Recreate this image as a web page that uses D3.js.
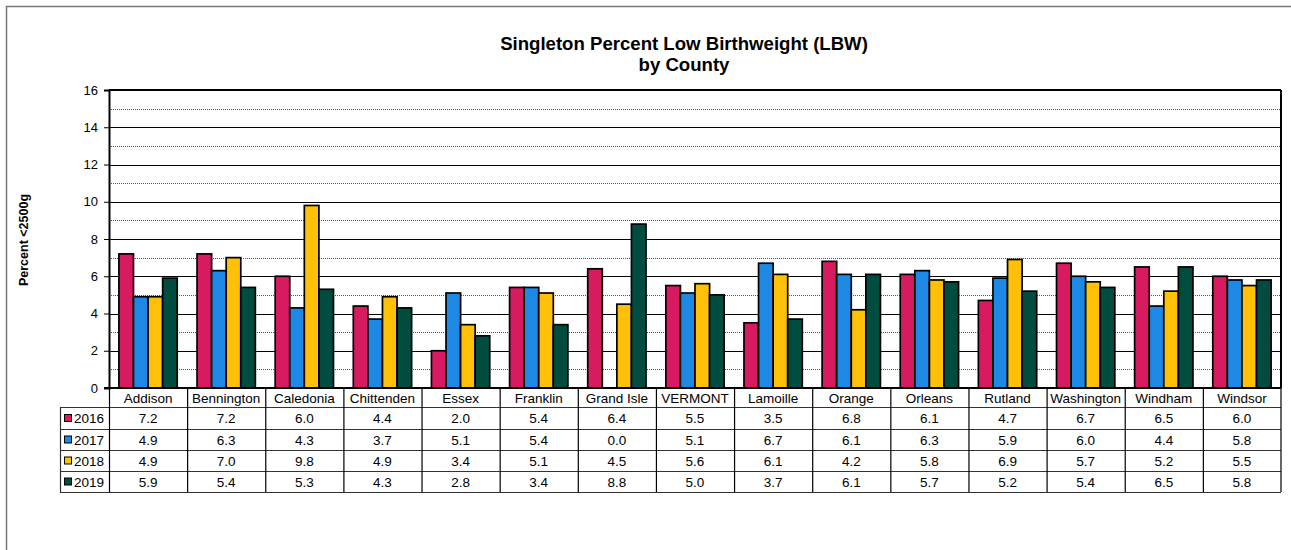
<!DOCTYPE html>
<html>
<head>
<meta charset="utf-8">
<script src="https://cdn.jsdelivr.net/npm/d3@7"></script>
<style>
  body { margin: 0; background: #fff; }
  svg { font-family: "Liberation Sans", Arial, sans-serif; }
</style>
</head>
<body>
<div id="chart"></div>
<script>
const width = 1291;
const height = 550;

// data
const counties = ["Addison", "Bennington", "Caledonia", "Chittenden", "Essex", "Franklin", "Grand Isle", "VERMONT", "Lamoille", "Orange", "Orleans", "Rutland", "Washington", "Windham", "Windsor"];
const years = ["2016", "2017", "2018", "2019"];
const v2016 = [7.2, 7.2, 6.0, 4.4, 2.0, 5.4, 6.4, 5.5, 3.5, 6.8, 6.1, 4.7, 6.7, 6.5, 6.0];
const v2017 = [4.9, 6.3, 4.3, 3.7, 5.1, 5.4, 0.0, 5.1, 6.7, 6.1, 6.3, 5.9, 6.0, 4.4, 5.8];
const v2018 = [4.9, 7.0, 9.8, 4.9, 3.4, 5.1, 4.5, 5.6, 6.1, 4.2, 5.8, 6.9, 5.7, 5.2, 5.5];
const v2019 = [5.9, 5.4, 5.3, 4.3, 2.8, 3.4, 8.8, 5.0, 3.7, 6.1, 5.7, 5.2, 5.4, 6.5, 5.8];
const series = [v2016, v2017, v2018, v2019];
const colors = ["#D81B60", "#1E88E5", "#FFC107", "#004D40"];
const yTicks = [0, 2, 4, 6, 8, 10, 12, 14, 16];

const plotLeft = 109, plotRight = 1281, plotTop = 90, plotBottom = 388;

let svg = d3.select("#chart").append("svg").attr("width", width).attr("height", height);

// outer frame
svg.append("rect").attr("x", 6.5).attr("y", 6.5).attr("width", 1290).attr("height", 600)
  .attr("fill", "none").attr("stroke", "#777").attr("stroke-width", 1.5);

const x = d3.scaleBand().domain(counties).range([plotLeft, plotRight]);
const x1 = d3.scaleBand().domain(years).range([0, x.bandwidth()]).paddingOuter(0.68);
const y = d3.scaleLinear().domain([0, 16]).range([plotBottom, plotTop]);

// gridlines
const g = svg.append("g");
d3.range(1, 16, 2).forEach(v => {
  g.append("line").attr("x1", plotLeft).attr("x2", plotRight).attr("y1", Math.round(y(v)) + 0.5).attr("y2", Math.round(y(v)) + 0.5)
    .attr("stroke", "#555").attr("stroke-width", 1).attr("stroke-dasharray", "1,1");
});
yTicks.filter(v => v > 0 && v < 16).forEach(v => {
  g.append("line").attr("x1", plotLeft).attr("x2", plotRight).attr("y1", Math.round(y(v)) + 0.5).attr("y2", Math.round(y(v)) + 0.5)
    .attr("stroke", "#000").attr("stroke-width", 1);
});
g.append("line").attr("x1", plotLeft).attr("x2", plotRight).attr("y1", y(16)).attr("y2", y(16)).attr("stroke", "#000").attr("stroke-width", 2);
g.append("line").attr("x1", plotRight).attr("x2", plotRight).attr("y1", y(16)).attr("y2", y(0)).attr("stroke", "#000").attr("stroke-width", 2);

// bars
series.forEach((vals, i) => {
  const rows = vals.map((v, j) => ({ county: counties[j], value: v })).filter(d => d.value > 0);
  svg.append("g").selectAll("rect").data(rows).join("rect")
    .attr("x", d => x(d.county) + x1(years[i]))
    .attr("y", d => y(d.value))
    .attr("width", x1.bandwidth())
    .attr("height", d => y(0) - y(d.value))
    .attr("fill", colors[i]).attr("stroke", "#000").attr("stroke-width", 1.7);
});

// y axis
const yAxis = svg.append("g").attr("transform", `translate(${plotLeft},0)`)
  .call(d3.axisLeft(y).tickValues(yTicks).tickSize(5).tickPadding(6).tickFormat(d3.format("d")));
yAxis.select(".domain").attr("stroke", "#000").attr("stroke-width", 2);
yAxis.selectAll(".tick line").attr("stroke", "#000");
yAxis.selectAll("text").attr("font-size", 13).attr("fill", "#000")
  .attr("font-family", "'Liberation Sans', Arial, sans-serif");

// x baseline
svg.append("line").attr("x1", plotLeft - 5).attr("x2", plotRight).attr("y1", plotBottom).attr("y2", plotBottom).attr("stroke", "#000").attr("stroke-width", 2);

// title
svg.append("text").attr("x", 684).attr("y", 50).attr("text-anchor", "middle")
  .attr("font-size", 18.6).attr("font-weight", "bold").text("Singleton Percent Low Birthweight (LBW)");
svg.append("text").attr("x", 684).attr("y", 71).attr("text-anchor", "middle")
  .attr("font-size", 18.6).attr("font-weight", "bold").text("by County");

// y label
svg.append("text").attr("transform", "translate(28,240) rotate(-90)").attr("text-anchor", "middle")
  .attr("font-size", 12.5).attr("font-weight", "bold").text("Percent <2500g");

// data table
const rowTop = [388, 407, 429, 450, 471, 492];
const legendLeft = 60;
const t = svg.append("g");
rowTop.forEach((ry, k) => {
  if (k === 0) return;
  t.append("line").attr("x1", legendLeft).attr("x2", plotRight).attr("y1", ry + 0.5).attr("y2", ry + 0.5)
    .attr("stroke", "#333").attr("stroke-width", 1.2);
});
counties.forEach(c => {
  t.append("line").attr("x1", x(c) + 0.5).attr("x2", x(c) + 0.5).attr("y1", 388).attr("y2", 492)
    .attr("stroke", "#000").attr("stroke-width", 1.2);
});
t.append("line").attr("x1", plotRight).attr("x2", plotRight).attr("y1", 388).attr("y2", 492).attr("stroke", "#000").attr("stroke-width", 1.2);
t.append("line").attr("x1", legendLeft + 0.5).attr("x2", legendLeft + 0.5).attr("y1", 407).attr("y2", 492).attr("stroke", "#333").attr("stroke-width", 1.2);

// category labels
t.selectAll("text.cat").data(counties).join("text").attr("class", "cat")
  .attr("x", d => x(d) + x.bandwidth() / 2).attr("y", 403).attr("text-anchor", "middle")
  .attr("font-size", 13.5).text(d => d);

// rows
series.forEach((vals, i) => {
  const cy = (rowTop[i + 1] + rowTop[i + 2]) / 2;
  t.append("rect").attr("x", 64.5).attr("y", cy - 3.5).attr("width", 7).attr("height", 7)
    .attr("fill", colors[i]).attr("stroke", "#000").attr("stroke-width", 1);
  t.append("text").attr("x", 74).attr("y", cy + 5).attr("font-size", 13.5).text(years[i]);
  t.selectAll(null).data(vals).join("text")
    .attr("x", (d, j) => x(counties[j]) + x.bandwidth() / 2).attr("y", cy + 5)
    .attr("text-anchor", "middle").attr("font-size", 13.5).text(d => d.toFixed(1));
});
</script>
</body>
</html>
